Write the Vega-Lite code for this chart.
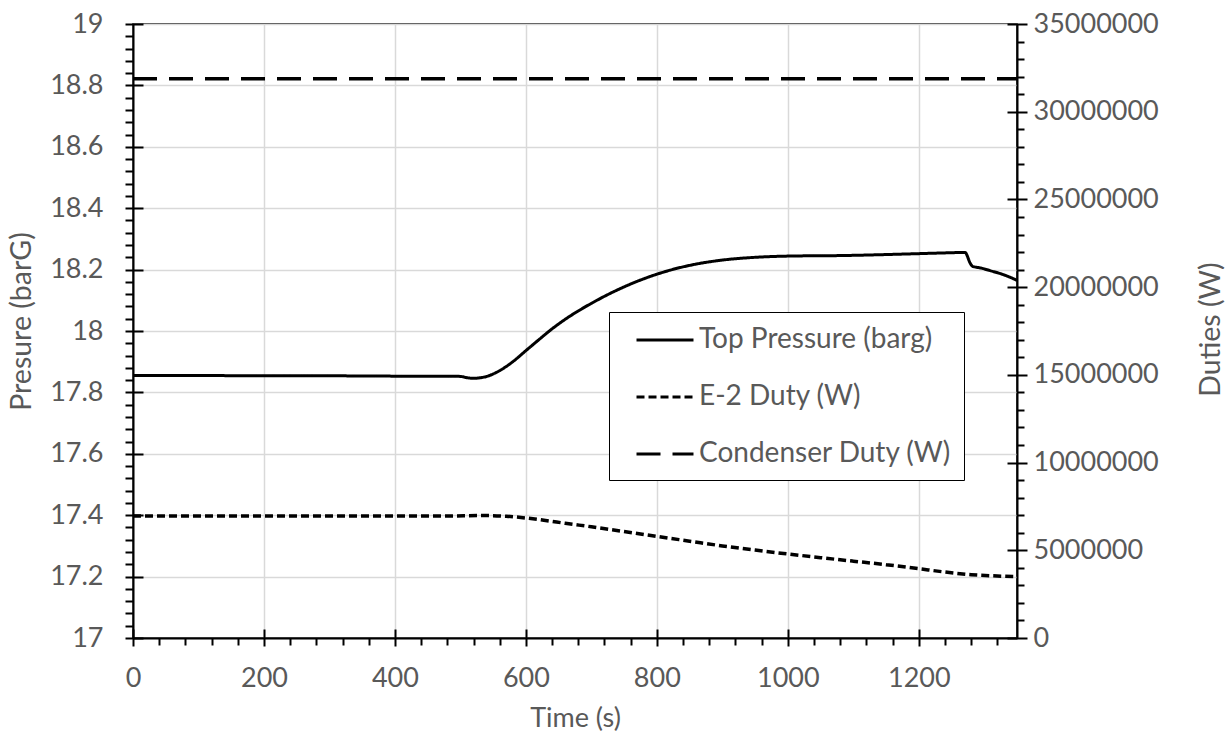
{
  "$schema": "https://vega.github.io/schema/vega-lite/v6.json",
  "width": 884,
  "height": 614,
  "autosize": {"type": "none"},
  "padding": {"left": 133, "top": 24, "right": 209, "bottom": 95},
  "background": "white",
  "config": {
    "view": {"stroke": "black", "strokeWidth": 1.5},
    "font": "Lato",
    "axis": {
      "labelFont": "Lato", "titleFont": "Lato", "labelFontSize": 27, "titleFontSize": 27.5,
      "labelColor": "#595959", "titleColor": "#595959", "titleFontWeight": "normal",
      "domainColor": "black", "domainWidth": 2, "tickColor": "black", "tickWidth": 2,
      "gridColor": "#d9d9d9", "gridWidth": 1.5, "labelFlush": false, "labelOverlap": false
    },
    "legend": {
      "labelFont": "Lato", "labelFontSize": 28, "labelColor": "#595959", "labelLimit": 500
    }
  },
  "data": {"values": [
    {"s": "Top Pressure (barg)", "t": 0, "v": 17.855},
    {"s": "Top Pressure (barg)", "t": 100, "v": 17.855},
    {"s": "Top Pressure (barg)", "t": 200, "v": 17.854},
    {"s": "Top Pressure (barg)", "t": 300, "v": 17.854},
    {"s": "Top Pressure (barg)", "t": 400, "v": 17.853},
    {"s": "Top Pressure (barg)", "t": 480, "v": 17.853},
    {"s": "Top Pressure (barg)", "t": 500, "v": 17.852},
    {"s": "Top Pressure (barg)", "t": 510, "v": 17.848},
    {"s": "Top Pressure (barg)", "t": 520, "v": 17.846},
    {"s": "Top Pressure (barg)", "t": 540, "v": 17.852},
    {"s": "Top Pressure (barg)", "t": 560, "v": 17.871},
    {"s": "Top Pressure (barg)", "t": 580, "v": 17.900},
    {"s": "Top Pressure (barg)", "t": 600, "v": 17.936},
    {"s": "Top Pressure (barg)", "t": 620, "v": 17.972},
    {"s": "Top Pressure (barg)", "t": 640, "v": 18.007},
    {"s": "Top Pressure (barg)", "t": 660, "v": 18.038},
    {"s": "Top Pressure (barg)", "t": 700, "v": 18.090},
    {"s": "Top Pressure (barg)", "t": 740, "v": 18.134},
    {"s": "Top Pressure (barg)", "t": 780, "v": 18.170},
    {"s": "Top Pressure (barg)", "t": 820, "v": 18.198},
    {"s": "Top Pressure (barg)", "t": 860, "v": 18.218},
    {"s": "Top Pressure (barg)", "t": 900, "v": 18.231},
    {"s": "Top Pressure (barg)", "t": 950, "v": 18.240},
    {"s": "Top Pressure (barg)", "t": 1000, "v": 18.244},
    {"s": "Top Pressure (barg)", "t": 1090, "v": 18.246},
    {"s": "Top Pressure (barg)", "t": 1150, "v": 18.249},
    {"s": "Top Pressure (barg)", "t": 1200, "v": 18.252},
    {"s": "Top Pressure (barg)", "t": 1250, "v": 18.255},
    {"s": "Top Pressure (barg)", "t": 1271, "v": 18.256},
    {"s": "Top Pressure (barg)", "t": 1274, "v": 18.245},
    {"s": "Top Pressure (barg)", "t": 1277, "v": 18.228},
    {"s": "Top Pressure (barg)", "t": 1282, "v": 18.211},
    {"s": "Top Pressure (barg)", "t": 1295, "v": 18.205},
    {"s": "Top Pressure (barg)", "t": 1310, "v": 18.196},
    {"s": "Top Pressure (barg)", "t": 1330, "v": 18.183},
    {"s": "Top Pressure (barg)", "t": 1350, "v": 18.165},
    {"s": "E-2 Duty (W)", "t": 0, "v": 6950000},
    {"s": "E-2 Duty (W)", "t": 200, "v": 6950000},
    {"s": "E-2 Duty (W)", "t": 400, "v": 6950000},
    {"s": "E-2 Duty (W)", "t": 470, "v": 6950000},
    {"s": "E-2 Duty (W)", "t": 505, "v": 6965000},
    {"s": "E-2 Duty (W)", "t": 540, "v": 6980000},
    {"s": "E-2 Duty (W)", "t": 570, "v": 6940000},
    {"s": "E-2 Duty (W)", "t": 600, "v": 6840000},
    {"s": "E-2 Duty (W)", "t": 630, "v": 6700000},
    {"s": "E-2 Duty (W)", "t": 660, "v": 6540000},
    {"s": "E-2 Duty (W)", "t": 700, "v": 6340000},
    {"s": "E-2 Duty (W)", "t": 750, "v": 6070000},
    {"s": "E-2 Duty (W)", "t": 800, "v": 5790000},
    {"s": "E-2 Duty (W)", "t": 850, "v": 5520000},
    {"s": "E-2 Duty (W)", "t": 900, "v": 5250000},
    {"s": "E-2 Duty (W)", "t": 950, "v": 5010000},
    {"s": "E-2 Duty (W)", "t": 1000, "v": 4790000},
    {"s": "E-2 Duty (W)", "t": 1050, "v": 4580000},
    {"s": "E-2 Duty (W)", "t": 1100, "v": 4380000},
    {"s": "E-2 Duty (W)", "t": 1150, "v": 4180000},
    {"s": "E-2 Duty (W)", "t": 1200, "v": 3950000},
    {"s": "E-2 Duty (W)", "t": 1240, "v": 3760000},
    {"s": "E-2 Duty (W)", "t": 1280, "v": 3610000},
    {"s": "E-2 Duty (W)", "t": 1310, "v": 3550000},
    {"s": "E-2 Duty (W)", "t": 1350, "v": 3500000},
    {"s": "Condenser Duty (W)", "t": 0, "v": 31880000},
    {"s": "Condenser Duty (W)", "t": 1350, "v": 31880000}
  ]},
  "layer": [
    {
      "transform": [{"filter": "datum.s === 'Top Pressure (barg)'"}],
      "mark": {"type": "line", "color": "black", "strokeWidth": 3, "interpolate": "monotone"},
      "encoding": {
        "x": {"field": "t", "type": "quantitative",
          "scale": {"domain": [0, 1350], "nice": false, "zero": false},
          "axis": {"orient": "bottom", "values": [0, 200, 400, 600, 800, 1000, 1200], "format": "d",
            "ticks": false, "grid": true, "labelPadding": 27, "title": "Time (s)", "titleFontSize": 27,
            "titleX": 442, "titleY": 88, "titleBaseline": "alphabetic", "titleAlign": "center"}},
        "y": {"field": "v", "type": "quantitative",
          "scale": {"domain": [17, 19], "nice": false, "zero": false},
          "axis": {"orient": "left", "values": [17, 17.2, 17.4, 17.6, 17.8, 18, 18.2, 18.4, 18.6, 18.8, 19], "format": "~g",
            "ticks": false, "grid": true, "labelPadding": 30, "title": "Presure (barG)", "titleFontSize": 28.5,
            "titleX": -103, "titleY": 297, "titleAngle": -90, "titleBaseline": "alphabetic", "titleAlign": "center"}},
        "strokeDash": {"field": "s", "type": "nominal",
          "scale": {"domain": ["Top Pressure (barg)", "E-2 Duty (W)", "Condenser Duty (W)"], "range": [[1, 0], [8, 4], [24, 12]]},
          "legend": {"title": null, "orient": "none", "legendX": 476, "legendY": 288, "direction": "vertical",
            "padding": 12, "strokeColor": "black", "fillColor": "white",
            "symbolType": "M-2,0L2,0", "symbolSize": 812, "symbolStrokeWidth": 3, "symbolStrokeColor": "black",
            "symbolFillColor": "transparent", "symbolOffset": 28, "labelOffset": 18, "rowPadding": 27}}
      }
    },
    {
      "transform": [{"filter": "datum.s !== 'Top Pressure (barg)'"}],
      "mark": {"type": "line", "color": "black", "strokeWidth": 3.5, "interpolate": "monotone"},
      "encoding": {
        "x": {"field": "t", "type": "quantitative", "axis": null},
        "y": {"field": "v", "type": "quantitative",
          "scale": {"domain": [0, 35000000], "nice": false, "zero": false},
          "axis": {"orient": "right", "values": [0, 5000000, 10000000, 15000000, 20000000, 25000000, 30000000, 35000000], "format": "d",
            "ticks": false, "grid": false, "labelPadding": 16, "title": "Duties (W)", "titleFontSize": 28.5,
            "titleX": 202, "titleY": 305, "titleAngle": -90, "titleBaseline": "alphabetic", "titleAlign": "center"}},
        "strokeDash": {"field": "s", "type": "nominal",
          "scale": {"domain": ["Top Pressure (barg)", "E-2 Duty (W)", "Condenser Duty (W)"], "range": [[1, 0], [8, 4], [24, 12]]},
          "legend": {"title": null, "orient": "none", "legendX": 476, "legendY": 288, "direction": "vertical",
            "padding": 12, "strokeColor": "black", "fillColor": "white",
            "symbolType": "M-2,0L2,0", "symbolSize": 812, "symbolStrokeWidth": 3, "symbolStrokeColor": "black",
            "symbolFillColor": "transparent", "symbolOffset": 28, "labelOffset": 18, "rowPadding": 27}}
      }
    },
    {
      "transform": [{"filter": "datum.s === 'Top Pressure (barg)'"}],
      "mark": {"type": "point", "opacity": 0},
      "encoding": {
        "x": {"field": "t", "type": "quantitative",
          "axis": {"orient": "bottom", "values": [0, 200, 400, 600, 800, 1000, 1200], "tickSize": 17, "offset": -9,
            "domain": false, "labels": false, "grid": false, "title": null}},
        "y": {"field": "v", "type": "quantitative",
          "scale": {"domain": [17, 19], "nice": false, "zero": false},
          "axis": {"orient": "left", "values": [17, 17.2, 17.4, 17.6, 17.8, 18, 18.2, 18.4, 18.6, 18.8, 19], "tickSize": 18, "offset": -10,
            "domain": false, "labels": false, "grid": false, "title": null}}
      }
    },
    {
      "transform": [{"filter": "datum.s === 'Top Pressure (barg)'"}],
      "mark": {"type": "point", "opacity": 0},
      "encoding": {
        "x": {"field": "t", "type": "quantitative",
          "axis": {"orient": "bottom", "values": [40, 80, 120, 160, 240, 280, 320, 360, 440, 480, 520, 560, 640, 680, 720, 760, 840, 880, 920, 960, 1040, 1080, 1120, 1160, 1240, 1280, 1320], "tickSize": 7,
            "domain": false, "labels": false, "grid": false, "title": null}},
        "y": {"field": "v", "type": "quantitative",
          "scale": {"domain": [17, 19], "nice": false, "zero": false},
          "axis": {"orient": "left", "values": [17.04, 17.08, 17.12, 17.16, 17.24, 17.28, 17.32, 17.36, 17.44, 17.48, 17.52, 17.56, 17.64, 17.68, 17.72, 17.76, 17.84, 17.88, 17.92, 17.96, 18.04, 18.08, 18.12, 18.16, 18.24, 18.28, 18.32, 18.36, 18.44, 18.48, 18.52, 18.56, 18.64, 18.68, 18.72, 18.76, 18.84, 18.88, 18.92, 18.96], "tickSize": 8,
            "domain": false, "labels": false, "grid": false, "title": null}}
      }
    },
    {
      "transform": [{"filter": "datum.s !== 'Top Pressure (barg)'"}],
      "mark": {"type": "point", "opacity": 0},
      "encoding": {
        "x": {"field": "t", "type": "quantitative", "axis": null},
        "y": {"field": "v", "type": "quantitative",
          "scale": {"domain": [0, 35000000], "nice": false, "zero": false},
          "axis": {"orient": "right", "values": [0, 5000000, 10000000, 15000000, 20000000, 25000000, 30000000, 35000000], "tickSize": 20, "offset": -10,
            "domain": false, "labels": false, "grid": false, "title": null}}
      }
    },
    {
      "transform": [{"filter": "datum.s !== 'Top Pressure (barg)'"}],
      "mark": {"type": "point", "opacity": 0},
      "encoding": {
        "x": {"field": "t", "type": "quantitative", "axis": null},
        "y": {"field": "v", "type": "quantitative",
          "scale": {"domain": [0, 35000000], "nice": false, "zero": false},
          "axis": {"orient": "right", "values": [1000000, 2000000, 3000000, 4000000, 6000000, 7000000, 8000000, 9000000, 11000000, 12000000, 13000000, 14000000, 16000000, 17000000, 18000000, 19000000, 21000000, 22000000, 23000000, 24000000, 26000000, 27000000, 28000000, 29000000, 31000000, 32000000, 33000000, 34000000], "tickSize": 7,
            "domain": false, "labels": false, "grid": false, "title": null}}
      }
    }
  ],
  "resolve": {"scale": {"y": "independent"}, "axis": {"x": "independent", "y": "independent"}}
}
